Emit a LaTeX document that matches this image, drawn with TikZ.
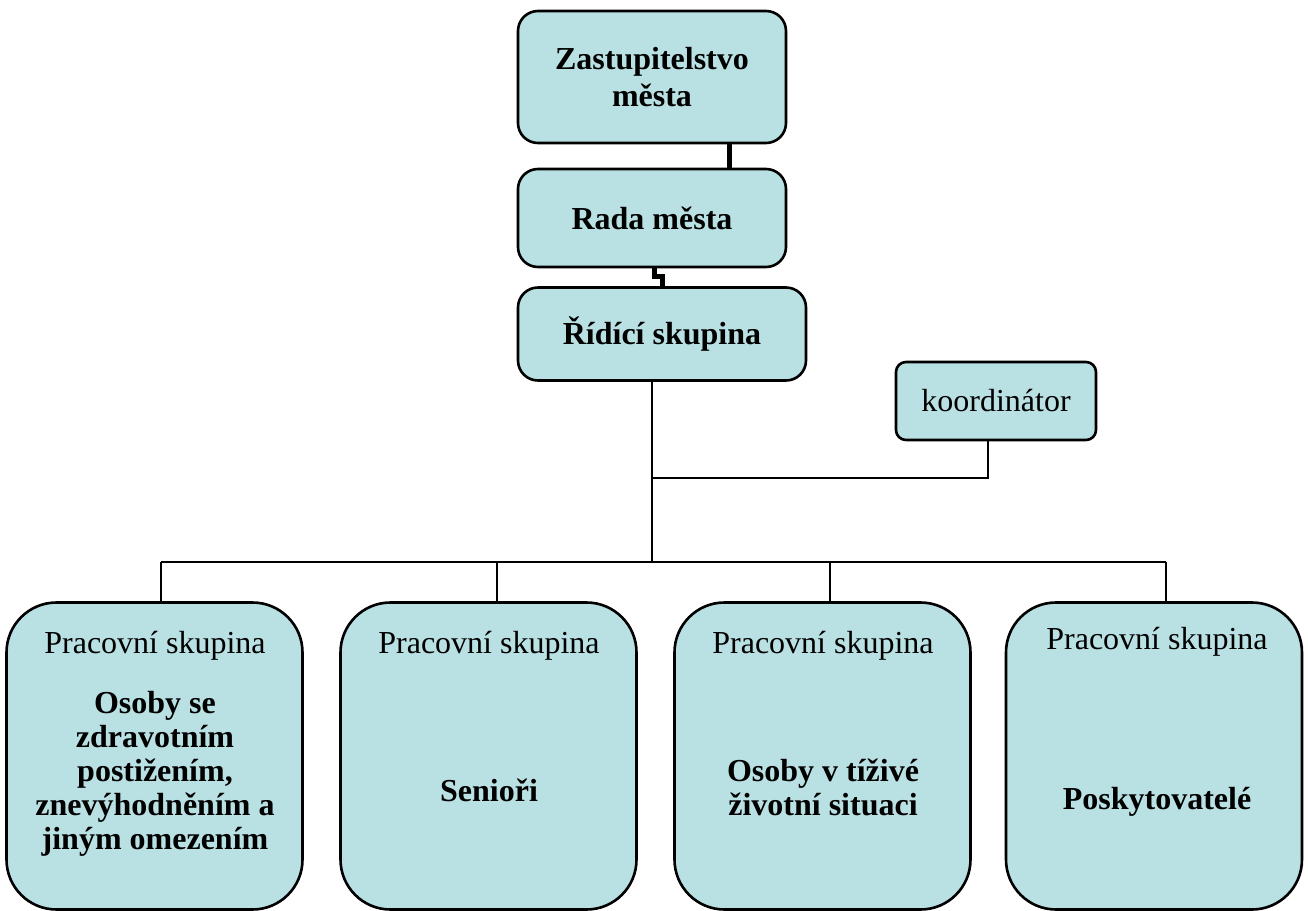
\documentclass[tikz,border=0pt]{standalone}
\usepackage{fontspec}
\setmainfont{Liberation Serif}
\usepackage{xcolor}
\usepackage{tikz}
\usetikzlibrary{positioning}
\definecolor{boxblue}{RGB}{185,224,227}

\begin{document}
\begin{tikzpicture}[x=0.5pt,y=-0.5pt,
    font=\fontsize{16}{18.5}\selectfont,
    box/.style={draw, line width=1.3pt, fill=boxblue, rounded corners=10pt,
        inner sep=0pt, align=center, font=\fontsize{16}{18.5}\selectfont\bfseries},
    groupbox/.style={box, rounded corners=25pt, minimum width=148pt, minimum height=153.5pt},
    grouptitle/.style={inner sep=0pt, font=\fontsize{16}{18}\selectfont},
    groupbody/.style={inner sep=0pt, align=center, font=\fontsize{16}{17}\selectfont\bfseries},
    link/.style={line width=1pt},
    thicklink/.style={line width=2.5pt}]

    % Page frame
    \useasboundingbox (0,0) rectangle (1308,911);

    % Top of the hierarchy
    \node[box, minimum width=134pt, minimum height=66pt] (zast) at (652,77) {Zastupitelstvo\\města};
    \node[box, minimum width=134pt, minimum height=49pt] (rada) at (652,218) {Rada města};
    \node[box, minimum width=144pt, minimum height=46.5pt] (ridici) at (662,334) {Řídící skupina};
    \node[box, rounded corners=5pt, minimum width=100pt, minimum height=39pt,
        font=\fontsize{16}{18}\selectfont] (koord) at (996,401) {koordinátor};

    % Working groups
    \foreach \n/\x in {1/154.5, 2/488.5, 3/822.5, 4/1154} {
        \node[groupbox] (g\n) at (\x,756) {};
    }
    \node[grouptitle] (t1) at (155,646) {Pracovní skupina};
    \node[grouptitle] (t2) at (489,646) {Pracovní skupina};
    \node[grouptitle] (t3) at (823,646) {Pracovní skupina};
    \node[grouptitle] (t4) at (1157,642) {Pracovní skupina};

    \node[groupbody] (b1) at (155,774) {Osoby se\\zdravotním\\postižením,\\znevýhodněním a\\jiným omezením};
    \node[groupbody] (b2) at (489,790) {Senioři};
    \node[groupbody] (b3) at (823,787) {Osoby v tíživé\\životní situaci};
    \node[groupbody] (b4) at (1157,802) {Poskytovatelé};

    % Connectors
    \coordinate (zastdrop) at (729,0);
    \draw[thicklink] (zastdrop |- zast.south) -- (zastdrop |- rada.north);

    \coordinate (stepA) at (654,276);
    \coordinate (stepB) at (662,276);
    \draw[thicklink] (stepA |- rada.south) -- (stepA) -- (stepB) -- (stepB |- ridici.north);

    \coordinate (trunk) at (652,0);
    \coordinate (koordjoin) at (652,478);
    \coordinate (koorddrop) at (988,478);
    \coordinate (bus) at (652,562);
    \draw[link] (trunk |- ridici.south) -- (bus);
    \draw[link] (koordjoin) -- (koorddrop) -- (koorddrop |- koord.south);

    \coordinate (bus1) at (161,562);
    \coordinate (bus2) at (497,562);
    \coordinate (bus3) at (830,562);
    \coordinate (bus4) at (1166,562);
    \draw[link] (bus1) -- (bus4);
    \foreach \n in {1,...,4} {
        \draw[link] (bus\n) -- (bus\n |- g\n.north);
    }
\end{tikzpicture}
\end{document}
